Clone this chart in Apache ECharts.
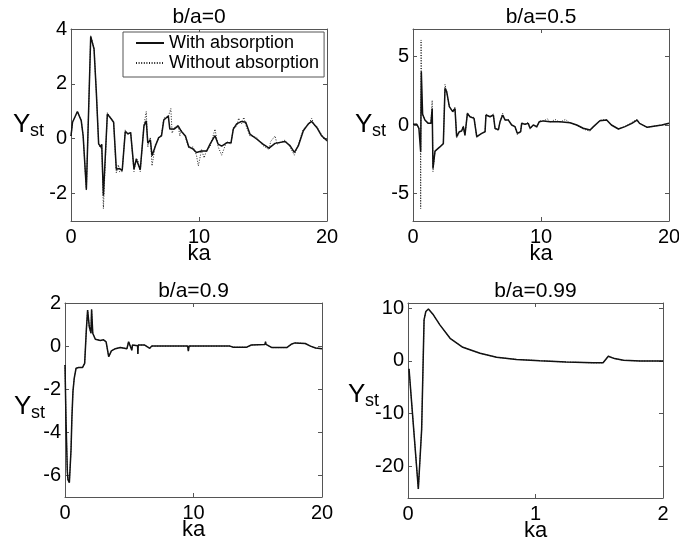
<!DOCTYPE html>
<html>
<head>
<meta charset="utf-8">
<script src="https://cdn.jsdelivr.net/npm/echarts@6/dist/echarts.min.js"></script>
<style>
  html, body { margin: 0; padding: 0; background: #fff; }
  #chart { width: 679px; height: 542px; }
</style>
</head>
<body>
<div id="chart"></div>
<script>
// ---- tick values ----
const kaTicksWide = [0, 10, 20];
const kaTicksNarrow = [0, 1, 2];
const yTicksB0 = [-2, 0, 2, 4];
const yTicksB05 = [-5, 0, 5];
const yTicksB09 = [-6, -4, -2, 0, 2];
const yTicksB099 = [-20, -10, 0, 10];

// ---- series names ----
const seriesNames = ['With absorption', 'Without absorption'];

// ---- b/a = 0 : [ka, Yst] ----
const withAbsB0 = [
  [0, 0.1], [0.12, 0.6], [0.5, 0.99], [0.8, 0.66], [0.95, 0.1], [1.2, -1.84], [1.38, 1.08],
  [1.54, 3.73], [1.8, 3.27], [1.98, 1.69], [2.16, -0.19], [2.32, -0.3], [2.4, -0.2],
  [2.53, -2.08], [2.84, 0.9], [3.15, 0.72], [3.33, 0.6], [3.54, -1.11], [3.8, -1.09],
  [4.0, -1.16], [4.24, 0.26], [4.45, 0.18], [4.66, 0.22], [4.92, -1.11], [5.1, -0.75],
  [5.23, -0.72], [5.41, -1.13], [5.7, 0.47], [5.88, 0.65], [6.0, -0.16], [6.2, -0.04],
  [6.33, -0.62], [6.6, -0.26], [6.85, 0.04], [7.07, 0.1], [7.25, 0.68], [7.6, 0.83],
  [7.72, 0.35], [8.06, 0.35], [8.37, 0.47], [8.63, 0.26], [8.94, 0.1], [9.2, -0.29],
  [9.54, -0.38], [9.8, -0.5], [10.2, -0.45], [10.6, -0.45], [10.86, -0.2], [11.25, 0.11],
  [11.5, -0.2], [11.77, -0.27], [12.16, -0.15], [12.5, -0.15], [12.68, 0.35], [12.94, 0.54],
  [13.33, 0.63], [13.65, 0.6], [13.98, 0.17], [14.5, -0.01], [15.0, -0.2], [15.47, -0.34],
  [15.94, -0.17], [16.72, -0.1], [17.11, -0.25], [17.45, -0.5], [17.77, -0.25], [18.15, 0.29],
  [18.54, 0.54], [18.8, 0.63], [19.2, 0.41], [19.57, 0.11], [20, -0.07]
];
const withoutAbsB0 = [
  [0, 0.1], [0.12, 0.6], [0.5, 0.99], [0.8, 0.66], [0.95, 0.1], [1.2, -1.9], [1.38, 1.08],
  [1.54, 3.75], [1.8, 3.3], [1.98, 1.69], [2.16, -0.19], [2.32, -0.35], [2.4, -0.2],
  [2.53, -2.55], [2.84, 0.95], [3.15, 0.72], [3.33, 0.6], [3.54, -1.25], [3.7, -0.95],
  [3.8, -1.2], [4.0, -1.2], [4.24, 0.32], [4.45, 0.15], [4.66, 0.25], [4.92, -1.2],
  [5.1, -0.7], [5.23, -0.8], [5.41, -1.2], [5.7, 0.5], [5.88, 0.99], [6.0, -0.3], [6.2, 0.05],
  [6.33, -0.99], [6.6, -0.2], [6.85, 0.0], [7.07, 0.15], [7.25, 0.75], [7.6, 0.8], [7.8, 1.1],
  [7.9, 0.2], [8.06, 0.4], [8.37, 0.5], [8.5, 0.1], [8.63, 0.3], [8.94, 0.05], [9.2, -0.35],
  [9.54, -0.3], [9.8, -0.6], [9.95, -0.99], [10.2, -0.4], [10.4, -0.7], [10.6, -0.4],
  [10.86, -0.3], [11.25, 0.35], [11.5, -0.3], [11.77, -0.6], [12.16, -0.1], [12.5, -0.2],
  [12.68, 0.4], [12.94, 0.45], [13.1, 0.75], [13.33, 0.55], [13.5, 0.78], [13.65, 0.5],
  [13.98, 0.1], [14.5, 0.05], [15.0, -0.25], [15.47, -0.4], [15.6, -0.1], [15.94, 0.1],
  [16.1, -0.2], [16.72, -0.05], [17.11, -0.3], [17.45, -0.6], [17.77, -0.2], [18.15, 0.35],
  [18.54, 0.5], [18.8, 0.75], [19.0, 0.5], [19.2, 0.45], [19.57, 0.15], [20, -0.1]
];

// ---- b/a = 0.5 ----
const withAbsB05 = [
  [0, 0.05], [0.3, 0.05], [0.46, -0.24], [0.6, -1.95], [0.65, 3.9], [0.75, 0.78], [0.93, 0.36],
  [1.19, 0.12], [1.4, 0.12], [1.5, 1.2], [1.56, -3.16], [1.72, -1.9], [2.1, -1.6], [2.37, -1.36],
  [2.5, 2.68], [2.63, 2.43], [2.84, 1.34], [3.1, 0.97], [3.28, 1.2], [3.41, -0.85], [3.62, -0.49],
  [3.8, -0.44], [3.93, -0.12], [4.06, -0.73], [4.25, 0.85], [4.45, 0.6], [4.77, 0.48],
  [4.98, -0.85], [5.37, -0.61], [5.63, -0.49], [5.7, 0.73], [6.02, 0.6], [6.28, 0.73],
  [6.41, -0.24], [6.67, -0.36], [6.8, 0.24], [7.0, 0.73], [7.2, 0.36], [7.45, 0.36], [7.71, 0],
  [7.97, -0.12], [8.15, -0.61], [8.41, -0.49], [8.49, 0.12], [8.75, 0.05], [9.0, 0.12],
  [9.15, -0.24], [9.4, 0], [9.67, -0.12], [9.87, 0.24], [10.2, 0.3], [10.7, 0.24], [11.48, 0.24],
  [12.27, 0.17], [12.79, 0], [13.3, -0.24], [13.83, -0.36], [14.1, -0.12], [14.6, 0.31],
  [15.13, 0.36], [15.5, 0], [16.05, -0.29], [16.56, -0.12], [17.1, 0.12], [17.5, 0.36],
  [17.7, 0.12], [18.3, -0.17], [18.93, -0.07], [19.45, 0], [20, 0.12]
];
const withoutAbsB05 = [
  [0, 0.05], [0.3, 0.05], [0.46, -0.24], [0.58, -0.4], [0.6, -6.1], [0.63, 6.2], [0.68, 2.0],
  [0.75, 0.8], [0.93, 0.36], [1.19, 0.12], [1.4, 0.12], [1.5, 1.8], [1.56, -3.4], [1.72, -1.9],
  [2.1, -1.6], [2.37, -1.36], [2.5, 2.96], [2.63, 2.43], [2.84, 1.34], [3.1, 0.97], [3.28, 1.3],
  [3.41, -0.95], [3.62, -0.49], [3.8, -0.44], [3.93, -0.05], [4.06, -0.8], [4.25, 0.9],
  [4.45, 0.6], [4.77, 0.55], [4.98, -0.9], [5.37, -0.61], [5.63, -0.49], [5.7, 0.8], [6.02, 0.6],
  [6.28, 0.8], [6.41, -0.3], [6.67, -0.36], [6.8, 0.24], [7.0, 0.85], [7.2, 0.36], [7.45, 0.4],
  [7.71, 0], [7.97, -0.12], [8.15, -0.7], [8.41, -0.49], [8.49, 0.2], [8.75, 0.05], [9.0, 0.2],
  [9.15, -0.3], [9.4, 0], [9.67, -0.2], [9.87, 0.3], [10.2, 0.3], [10.5, 0.45], [10.7, 0.2],
  [11.1, 0.4], [11.48, 0.2], [11.9, 0.4], [12.27, 0.15], [12.79, 0], [13.3, -0.3], [13.83, -0.45],
  [14.1, -0.12], [14.6, 0.35], [15.13, 0.4], [15.5, 0], [16.05, -0.29], [16.56, -0.12],
  [17.1, 0.2], [17.5, 0.4], [17.7, 0.12], [18.3, -0.17], [18.93, -0.07], [19.45, 0], [20, 0.12]
];

// ---- b/a = 0.9 ----
const withAbsB09 = [
  [0, -0.88], [0.08, -3.5], [0.18, -5.8], [0.23, -6.2], [0.34, -6.33], [0.47, -4.8], [0.54, -3.27],
  [0.62, -2.1], [0.72, -1.48], [0.86, -1.03], [1.06, -0.99], [1.37, -0.99], [1.53, -0.8],
  [1.66, 0.74], [1.76, 1.67], [1.89, 0.9], [2.02, 0.6], [2.07, 1.7], [2.12, 1.7], [2.16, 0.6],
  [2.36, 0.32], [2.75, 0.26], [3.0, 0.29], [3.2, 0.2], [3.4, -0.49], [3.61, -0.22], [3.92, -0.12],
  [4.3, -0.06], [4.82, -0.12], [4.95, 0.2], [5.08, 0.12], [5.2, -0.19], [5.25, 0.05], [5.34, 0.05],
  [5.65, 0.02], [5.67, -0.37], [5.7, 0.05], [6.2, 0.05], [6.6, -0.1], [6.74, 0], [9.55, 0],
  [9.6, -0.23], [9.65, 0], [11.28, 0], [12.84, 0], [13.1, -0.05], [14.14, -0.05], [14.5, 0.05],
  [15.56, 0.08], [15.6, 0.2], [15.65, 0.08], [16.1, -0.07], [17.26, -0.07], [17.65, 0.1],
  [17.9, 0.15], [18.7, 0.12], [19.1, 0], [19.5, -0.09], [20, -0.12]
];

// ---- b/a = 0.99 ----
const withAbsB099 = [
  [0.008, -1.5], [0.081, -24.3], [0.107, -13], [0.126, 7.8], [0.14, 9.4], [0.16, 9.85],
  [0.199, 8.75], [0.25, 6.85], [0.33, 4.3], [0.43, 2.6], [0.565, 1.46], [0.695, 0.7], [0.85, 0.3],
  [1.035, 0.05], [1.24, -0.2], [1.45, -0.35], [1.53, -0.35], [1.571, 0.9], [1.584, 1.1],
  [1.62, 0.45], [1.69, 0.13], [1.82, 0], [2.0, 0]
];

// ---- panel layout ----
const FONT = '"Liberation Sans", Arial, Helvetica, sans-serif';
const AXIS_COLOR = '#555';
const TICK_FS = 20;
const panels = [
  { title: 'b/a=0',    grid: { left: 71,  top: 29,  width: 256, height: 192 }, xr: [0, 20], yr: [-3, 4],
    xt: kaTicksWide, yt: yTicksB0, solid: withAbsB0, dotted: withoutAbsB0, yLab: [13, 134] },
  { title: 'b/a=0.5',  grid: { left: 413, top: 29,  width: 256, height: 192 }, xr: [0, 20], yr: [-7, 7],
    xt: kaTicksWide, yt: yTicksB05, solid: withAbsB05, dotted: withoutAbsB05, yLab: [355, 134] },
  { title: 'b/a=0.9',  grid: { left: 65,  top: 303, width: 257, height: 194 }, xr: [0, 20], yr: [-7, 2],
    xt: kaTicksWide, yt: yTicksB09, solid: withAbsB09, dotted: withAbsB09, yLab: [14, 416] },
  { title: 'b/a=0.99', grid: { left: 408, top: 303, width: 255, height: 195 }, xr: [0, 2], yr: [-26, 11],
    xt: kaTicksNarrow, yt: yTicksB099, solid: withAbsB099, dotted: withAbsB099, yLab: [348, 404] }
];

const grids = [], xAxes = [], yAxes = [], series = [], graphics = [];
const tickStyle = { lineStyle: { color: AXIS_COLOR, width: 1 } };

panels.forEach((p, i) => {
  grids.push(Object.assign({ outerBoundsMode: 'none', containLabel: false }, p.grid));
  const common = { type: 'value', gridIndex: i, splitLine: { show: false },
    axisLine: { show: true, onZero: false, lineStyle: { color: AXIS_COLOR, width: 1 } } };
  xAxes.push(Object.assign({}, common, {
    position: 'bottom', min: p.xr[0], max: p.xr[1],
    axisTick: Object.assign({ show: true, inside: true, length: 4, customValues: p.xt }, tickStyle),
    axisLabel: { show: true, customValues: p.xt, margin: 6, color: '#000', fontSize: TICK_FS,
      fontFamily: FONT, lineHeight: TICK_FS },
    name: 'ka', nameLocation: 'middle', nameGap: 22, nameMoveOverlap: false,
    nameTextStyle: { color: '#000', fontSize: 22, fontFamily: FONT, lineHeight: 22 }
  }));
  xAxes.push(Object.assign({}, common, {
    position: 'top', min: p.xr[0], max: p.xr[1],
    axisTick: Object.assign({ show: true, inside: true, length: 4, customValues: p.xt }, tickStyle),
    axisLabel: { show: false }
  }));
  yAxes.push(Object.assign({}, common, {
    position: 'left', min: p.yr[0], max: p.yr[1],
    axisTick: Object.assign({ show: true, inside: true, length: 4, customValues: p.yt }, tickStyle),
    axisLabel: { show: true, customValues: p.yt, margin: 4, color: '#000', fontSize: TICK_FS,
      fontFamily: FONT, lineHeight: TICK_FS }
  }));
  yAxes.push(Object.assign({}, common, {
    position: 'right', min: p.yr[0], max: p.yr[1],
    axisTick: Object.assign({ show: true, inside: true, length: 4, customValues: p.yt }, tickStyle),
    axisLabel: { show: false }
  }));

  series.push({
    name: seriesNames[1], type: 'line', xAxisIndex: 2 * i, yAxisIndex: 2 * i,
    data: p.dotted, symbol: 'none', showSymbol: false, z: 2,
    lineStyle: { color: '#222', width: 1, type: [1, 1.6] }, itemStyle: { color: '#222' }
  });
  series.push({
    name: seriesNames[0], type: 'line', xAxisIndex: 2 * i, yAxisIndex: 2 * i,
    data: p.solid, symbol: 'none', showSymbol: false, z: 3,
    lineStyle: { color: '#111', width: 1.5, type: 'solid' }, itemStyle: { color: '#111' }
  });

  // subplot title
  const cx = p.grid.left + p.grid.width / 2;
  graphics.push({ type: 'text', x: cx, y: p.grid.top - 12,
    style: { text: p.title, fill: '#000', font: '21px ' + FONT, align: 'center', verticalAlign: 'middle' } });
  // y label: Y with subscript st
  graphics.push({ type: 'text', x: p.yLab[0], y: p.yLab[1] - 9,
    style: { text: 'Y', fill: '#000', font: '26px ' + FONT, align: 'left', verticalAlign: 'middle' } });
  graphics.push({ type: 'text', x: p.yLab[0] + 17, y: p.yLab[1] + 3 - 6.2,
    style: { text: 'st', fill: '#000', font: '18px ' + FONT, align: 'left', verticalAlign: 'middle' } });
});

const chart = echarts.init(document.getElementById('chart'), null, { renderer: 'canvas' });
chart.setOption({
  animation: false,
  backgroundColor: '#fff',
  grid: grids,
  xAxis: xAxes,
  yAxis: yAxes,
  series: series,
  graphic: graphics,
  legend: {
    data: seriesNames, orient: 'vertical', left: 123, top: 32, selectedMode: false,
    padding: [2, 5, 5, 12], itemWidth: 28, itemHeight: 14, itemGap: 2,
    itemStyle: { opacity: 0 },
    borderColor: AXIS_COLOR, borderWidth: 1, backgroundColor: '#fff',
    textStyle: { color: '#000', fontSize: 18, fontFamily: FONT, lineHeight: 18 }
  }
});
</script>
</body>
</html>
